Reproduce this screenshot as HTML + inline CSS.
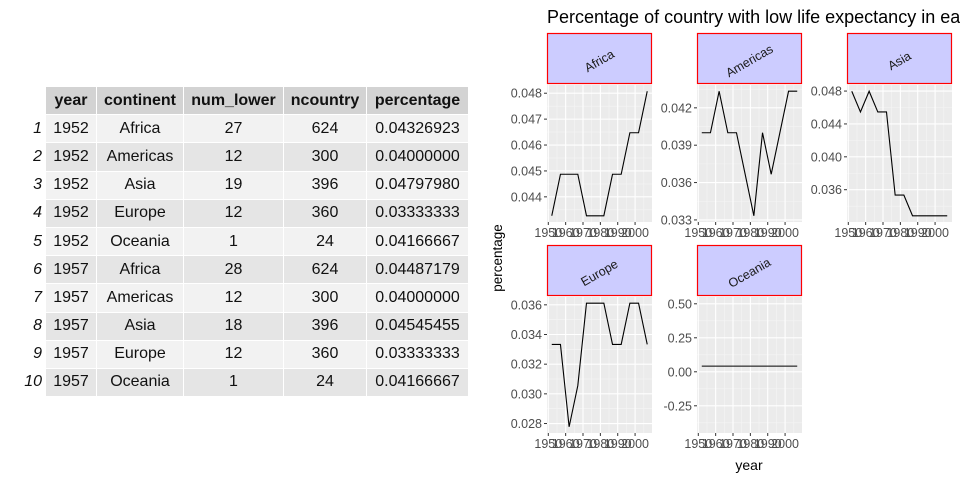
<!DOCTYPE html>
<html><head><meta charset="utf-8"><style>
body{margin:0;width:960px;height:480px;background:#fff;overflow:hidden;font-family:"Liberation Sans",sans-serif;position:relative}
table{position:absolute;left:20px;top:86px;border-collapse:collapse;font-size:16px;color:#111}
td,th{height:28.2px;padding:0 6px;border:1px solid #fff;box-sizing:border-box;text-align:center}
th{background:#d3d3d3;font-weight:bold}
td.i{background:#fff;font-style:italic;text-align:right;padding:0 3px 0 0;width:25px}
tr:nth-child(odd) td{background:#f2f2f2}tr:nth-child(even) td{background:#e5e5e5}
tr td.i{background:#fff!important}
svg{position:absolute;left:0;top:0}
</style></head><body>
<table>
<thead><tr><th style="background:#fff;width:25px"></th><th style="width:51px">year</th><th style="width:87px">continent</th><th style="width:100px">num_lower</th><th style="width:83px">ncountry</th><th style="width:102px">percentage</th></tr></thead>
<tbody>
<tr><td class="i">1</td><td>1952</td><td>Africa</td><td>27</td><td>624</td><td>0.04326923</td></tr>
<tr><td class="i">2</td><td>1952</td><td>Americas</td><td>12</td><td>300</td><td>0.04000000</td></tr>
<tr><td class="i">3</td><td>1952</td><td>Asia</td><td>19</td><td>396</td><td>0.04797980</td></tr>
<tr><td class="i">4</td><td>1952</td><td>Europe</td><td>12</td><td>360</td><td>0.03333333</td></tr>
<tr><td class="i">5</td><td>1952</td><td>Oceania</td><td>1</td><td>24</td><td>0.04166667</td></tr>
<tr><td class="i">6</td><td>1957</td><td>Africa</td><td>28</td><td>624</td><td>0.04487179</td></tr>
<tr><td class="i">7</td><td>1957</td><td>Americas</td><td>12</td><td>300</td><td>0.04000000</td></tr>
<tr><td class="i">8</td><td>1957</td><td>Asia</td><td>18</td><td>396</td><td>0.04545455</td></tr>
<tr><td class="i">9</td><td>1957</td><td>Europe</td><td>12</td><td>360</td><td>0.03333333</td></tr>
<tr><td class="i">10</td><td>1957</td><td>Oceania</td><td>1</td><td>24</td><td>0.04166667</td></tr>
</tbody></table>
<svg id="chart" width="960" height="480">
<text x="547" y="23" font-size="18" fill="#000">Percentage of country with low life expectancy in each continent</text>
<text transform="translate(502,258) rotate(-90)" text-anchor="middle" font-size="13.5" fill="#000">percentage</text>
<text x="749" y="470" text-anchor="middle" font-size="14" fill="#000">year</text>
</svg>
<script>
const years=[1952,1957,1962,1967,1972,1977,1982,1987,1992,1997,2002,2007];
const continents=["Africa","Americas","Asia","Europe","Oceania"];
const africa=[27,28,28,28,27,27,27,28,28,29,29,30].map(v=>v/624);
const americas=[12,12,13,12,12,11,10,12,11,12,13,13].map(v=>v/300);
const asia=[19,18,19,18,18,14,14,13,13,13,13,13].map(v=>v/396);
const europe=[12,12,10,11,13,13,13,12,12,13,13,12].map(v=>v/360);
const oceania=[1,1,1,1,1,1,1,1,1,1,1,1].map(v=>v/24);
const xTicks=[1950,1960,1970,1980,1990,2000];
const africaTicks=[0.044,0.045,0.046,0.047,0.048];
const americasTicks=[0.033,0.036,0.039,0.042];
const asiaTicks=[0.036,0.040,0.044,0.048];
const europeTicks=[0.028,0.030,0.032,0.034,0.036];
const oceaniaTicks=[-0.25,0,0.25,0.5];
const tickFmt=[v=>v.toFixed(3),v=>v.toFixed(3),v=>v.toFixed(3),v=>v.toFixed(3),v=>v.toFixed(2)];
const series=[africa,americas,asia,europe,oceania];
const ticks=[africaTicks,americasTicks,asiaTicks,europeTicks,oceaniaTicks];
const NS="http://www.w3.org/2000/svg";
const svg=document.getElementById('chart');
function mk(t,a,p){const e=document.createElementNS(NS,t);for(const k in a)e.setAttribute(k,a[k]);(p||svg).appendChild(e);return e;}
const cols=[547,697,847],W=105;
const rows=[{s:33,t:85,b:222},{s:245,t:297,b:433}];
continents.forEach((c,i)=>{
  const x0=cols[i%3],r=rows[Math.floor(i/3)];
  const g=mk('g',{});
  
  
  const vals=series[i];
  let mn=Math.min(...vals),mx=Math.max(...vals);
  if(mx-mn<1e-9){mn-=0.5;mx+=0.5;}
  const pad=(mx-mn)*0.05;mn-=pad;mx+=pad;
  if(i===4){mn=vals[0]-0.4917;mx=vals[0]+0.5083;}
  const xs=y=>x0+(y-1949.25)/60.5*W;
  const ys=v=>r.b-(v-mn)/(mx-mn)*(r.b-r.t);
  mk('rect',{x:x0,y:r.t,width:W,height:r.b-r.t,fill:'#ebebeb'},g);
  for(let k=0;k<xTicks.length;k++){const m=xTicks[k]+5;if(m<2010){mk('line',{x1:xs(m),x2:xs(m),y1:r.t,y2:r.b,stroke:'#f5f5f5','stroke-width':0.6},g);}}
  const tk=ticks[i];const st=tk[1]-tk[0];
  for(let k=-1;k<tk.length;k++){const m=tk[0]+st*(k+0.5);if(m>mn&&m<mx)mk('line',{x1:x0,x2:x0+W,y1:ys(m),y2:ys(m),stroke:'#f5f5f5','stroke-width':0.6},g);}
  xTicks.forEach(t=>{mk('line',{x1:xs(t),x2:xs(t),y1:r.t,y2:r.b,stroke:'#fff','stroke-width':1.1},g);
    mk('line',{x1:xs(t),x2:xs(t),y1:r.b,y2:r.b+3,stroke:'#333','stroke-width':1},g);
    const tx=mk('text',{x:xs(t),y:r.b+15,'text-anchor':'middle','font-size':12.5,fill:'#4d4d4d'},g);tx.textContent=t;
    
    });
  tk.forEach(t=>{mk('line',{x1:x0,x2:x0+W,y1:ys(t),y2:ys(t),stroke:'#fff','stroke-width':1.1},g);
    mk('line',{x1:x0-3,x2:x0,y1:ys(t),y2:ys(t),stroke:'#333','stroke-width':1},g);
    const tx=mk('text',{x:x0-5,y:ys(t)+4.5,'text-anchor':'end','font-size':12.5,fill:'#4d4d4d'},g);tx.textContent=tickFmt[i](t);
    
    });
  const ln=mk('polyline',{points:years.map((y,k)=>xs(y)+','+ys(vals[k])).join(' '),fill:'none',stroke:'#000','stroke-width':1.1},g);
  
  
  const s=mk('rect',{x:x0+0.5,y:r.s+0.5,width:W-1,height:r.t-r.s-2,style:'fill:#ccccff;stroke:#ff0000;stroke-width:1.2'},g);
  
  
  const cx=x0+W/2,cy=(r.s+r.t)/2+2;
  const st2=mk('text',{x:cx,y:cy+4,'text-anchor':'middle','font-size':12.5,fill:'#1a1a1a',transform:`rotate(-30 ${cx} ${cy})`},g);
  st2.textContent=c;
  
  
});
</script>
</body></html>
